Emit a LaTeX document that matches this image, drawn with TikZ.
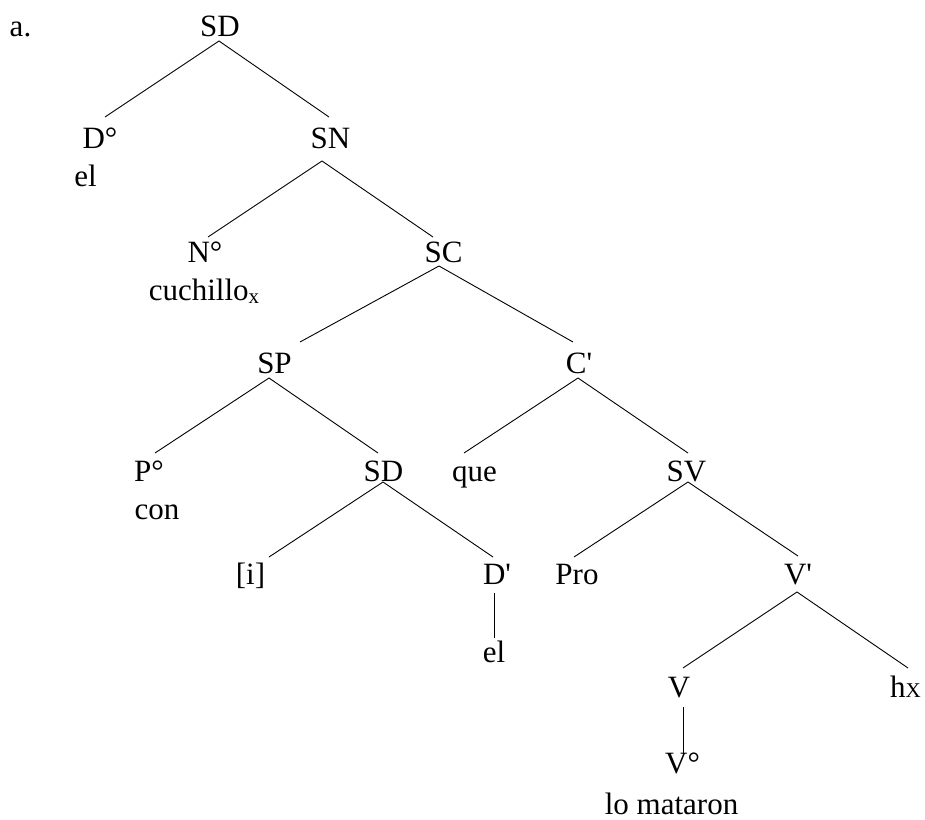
\documentclass[tikz,border=0pt]{standalone}
\usepackage{fontspec}
\newfontfamily\tf{Liberation Serif}
\usetikzlibrary{calc}
\newcommand\smallsub{\fontsize{21}{24}\selectfont}
\begin{document}
\begin{tikzpicture}[x=1pt,y=-1pt,line width=0.9pt,
  lab/.style={inner sep=0pt,anchor=base,font=\tf\fontsize{31}{36}\selectfont}]
\useasboundingbox[fill=white] (0,0) rectangle (925,819);
% nodes
\node[lab] (a)    at (20.5,36)  {a.};
\node[lab] (sd0)  at (220,36)   {SD};
\node[lab] (d0)   at (100,148)  {D°};
\node[lab] (el1)  at (85.5,186) {el};
\node[lab] (sn)   at (330.5,148){SN};
\node[lab] (n0)   at (205,262)  {N°};
\node[lab] (cuch) at (204,300)  {cuchillo\raisebox{-3pt}{\smallsub x}};
\node[lab] (sc)   at (443.5,262){SC};
\node[lab] (sp)   at (274.5,373){SP};
\node[lab] (cb)   at (579,373)  {C'};
\node[lab] (p0)   at (149,481)  {P°};
\node[lab] (con)  at (157,519)  {con};
\node[lab] (sd1)  at (383.5,481){SD};
\node[lab] (que)  at (474.5,481){que};
\node[lab] (sv)   at (686.5,481){SV};
\node[lab] (ib)   at (250.5,584){[i]};
\node[lab] (db)   at (497,584)  {D'};
\node[lab] (pro)  at (577,584)  {Pro};
\node[lab] (vb)   at (798,584)  {V'};
\node[lab] (el2)  at (494,662)  {el};
\node[lab] (v)    at (679,697)  {V};
\node[lab] (hx)   at (905.5,697){h{\smallsub X}};
\node[lab] (v0)   at (682.5,773){V°};
\node[lab] (lom)  at (671.5,814){lo mataron};
% branches
\draw ($(sd0.base)+(-1,5)$) -- ($(d0.base)+(5,-31)$);
\draw ($(sd0.base)+(-1,5)$) -- ($(sn.base)+(-1.5,-31)$);
\draw ($(sn.base)+(-8.5,13)$) -- ($(n0.base)+(3,-25)$);
\draw ($(sn.base)+(-8.5,13)$) -- ($(sc.base)+(-10.5,-25)$);
\draw ($(sc.base)+(-4.5,4)$) -- ($(sp.base)+(25.5,-31)$);
\draw ($(sc.base)+(-4.5,4)$) -- ($(cb.base)+(-6,-31)$);
\draw ($(sp.base)+(-5.5,5)$) -- ($(p0.base)+(6,-28)$);
\draw ($(sp.base)+(-5.5,5)$) -- ($(sd1.base)+(-5.5,-28)$);
\draw ($(cb.base)+(-1,5)$) -- ($(que.base)+(-10.5,-28)$);
\draw ($(cb.base)+(-1,5)$) -- ($(sv.base)+(1.5,-28)$);
\draw ($(sd1.base)+(-0.5,1)$) -- ($(ib.base)+(18.5,-27)$);
\draw ($(sd1.base)+(-0.5,1)$) -- ($(db.base)+(-4,-27)$);
\draw ($(sv.base)+(1.5,1)$) -- ($(pro.base)+(-3,-27)$);
\draw ($(sv.base)+(1.5,1)$) -- ($(vb.base)+(0,-28)$);
\draw ($(db.base)+(-3,9)$) -- ($(el2.base)+(0,-24)$);
\draw ($(vb.base)+(-1,8)$) -- ($(v.base)+(4,-29)$);
\draw ($(vb.base)+(-1,8)$) -- ($(hx.base)+(2.5,-29)$);
\draw ($(v.base)+(4,10)$) -- ($(v0.base)+(0.5,-20)$);
\end{tikzpicture}
\end{document}
